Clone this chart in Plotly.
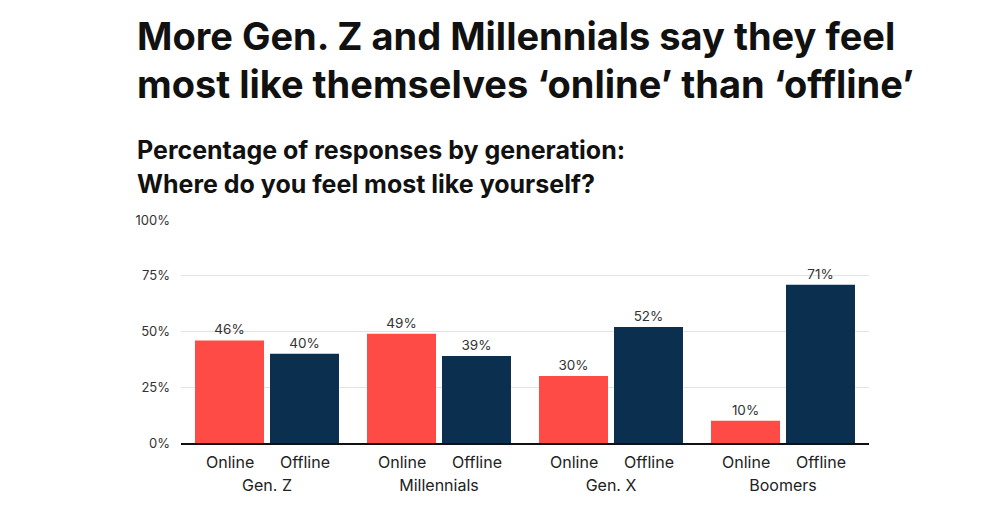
import plotly.graph_objects as go

generations = ["Gen. Z", "Millennials", "Gen. X", "Boomers"]
online = [46, 49, 30, 10]
offline = [40, 39, 52, 71]
series_names = ["Online", "Offline"]
y_ticks = [0, 25, 50, 75, 100]
y_tick_labels = ["0%", "25%", "50%", "75%", "100%"]

title_lines = ["More Gen. Z and Millennials say they feel",
               "most like themselves \u2018online\u2019 than \u2018offline\u2019"]
subtitle_lines = ["Percentage of responses by generation:",
                  "Where do you feel most like yourself?"]

RED = "#FF4B45"
NAVY = "#0A2F4F"
FONT = "Inter"

OFF = 8  # page body margin
W, H = 1000, 504
# plot area in screen pixels: x 181..869, y 220..443
ml = 181 - OFF
mt = 220 - OFF
mr = W - (869 - OFF)
mb = H - (443 - OFF)
ph = H - mt - mb
pw = W - ml - mr

bargap = 0.128
bargroupgap = 0.08

fig = go.Figure()
for name, vals, col in [(series_names[0], online, RED), (series_names[1], offline, NAVY)]:
    fig.add_trace(go.Bar(
        x=generations, y=vals, name=name, marker_color=col, marker_line_width=0,
        text=[f"{v}%" for v in vals], textposition="outside",
        textfont=dict(family=FONT, size=13.5, color="#333333"),
        cliponaxis=False,
    ))

def py(screen_y):
    return (443 - screen_y) / ph

def pxx(screen_x):
    return (screen_x - 181) / pw

ann = []
slot = (1 - bargap) / 2
for i, g in enumerate(generations):
    for j, s in enumerate(series_names):
        off = (j - 0.5) * slot
        ann.append(dict(x=i + off, y=py(462), xref="x", yref="paper", text=s,
                        showarrow=False, xanchor="center", yanchor="middle",
                        font=dict(family=FONT, size=16, color="#222222")))

for k, t in enumerate(title_lines):
    ann.append(dict(x=pxx(135), y=py([36, 84][k]), xref="paper", yref="paper", text=f"<b>{t}</b>",
                    showarrow=False, xanchor="left", yanchor="middle",
                    font=dict(family=FONT, size=38, color="#111111")))
for k, t in enumerate(subtitle_lines):
    ann.append(dict(x=pxx(135), y=py([150, 184][k]), xref="paper", yref="paper", text=f"<b>{t}</b>",
                    showarrow=False, xanchor="left", yanchor="middle",
                    font=dict(family=FONT, size=25, color="#111111")))

fig.update_layout(
    width=W, height=H,
    margin=dict(l=ml, r=mr, t=mt, b=mb),
    paper_bgcolor="white", plot_bgcolor="white",
    barmode="group", bargap=bargap, bargroupgap=bargroupgap,
    showlegend=False,
    annotations=ann,
    font=dict(family=FONT),
)
fig.update_xaxes(showgrid=False, ticks="", showline=True, linecolor="#111111", linewidth=1.5,
                 tickfont=dict(family=FONT, size=16, color="#222222"), ticklabelstandoff=27)
fig.update_yaxes(range=[0, 100], tickvals=y_ticks, ticktext=y_tick_labels,
                 showgrid=True, gridcolor="#E3E3E3", gridwidth=1, zeroline=False,
                 tickfont=dict(family=FONT, size=13, color="#333333"), ticklabelstandoff=10,
                 showline=False, ticks="")

fig.write_html("out.html")
